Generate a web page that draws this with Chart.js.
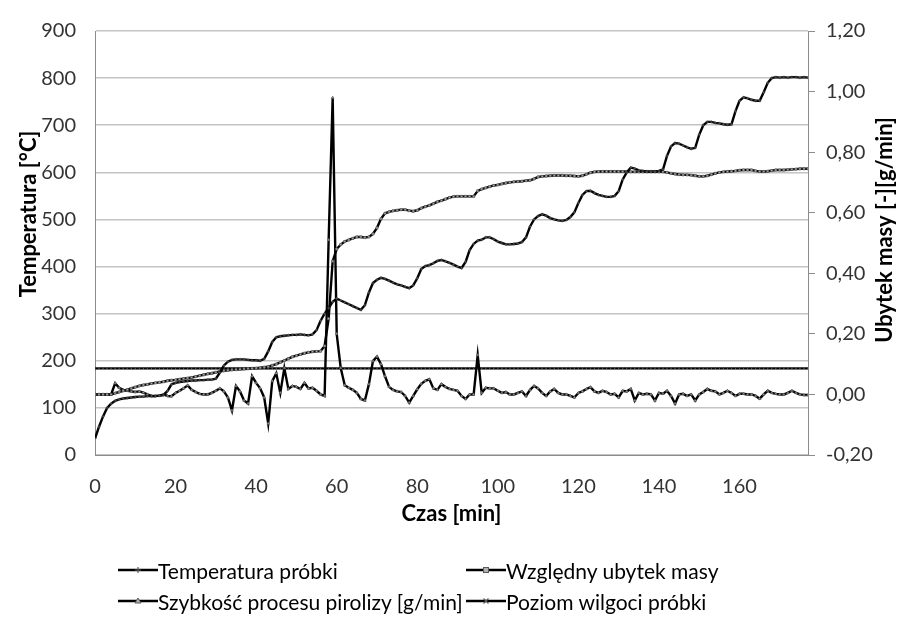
<!DOCTYPE html>
<html>
<head>
<meta charset="utf-8">
<script src="https://cdn.jsdelivr.net/npm/chart.js@4.4.1/dist/chart.umd.min.js"></script>
<style>
  body { margin: 0; background: #fff; }
  #wrap { position: relative; width: 907px; height: 621px; overflow: hidden; }
  #legend { position: absolute; left: 0; top: 0; width: 907px; height: 621px; pointer-events: none;
            font-family: Lato, "Open Sans", sans-serif; font-size: 21px; color: #000; }
  .item { position: absolute; display: flex; align-items: center; height: 24px; white-space: nowrap; }
  .item svg { display: block; }
</style>
</head>
<body>
<div id="wrap">
  <canvas id="wykres" width="907" height="621"></canvas>
  <div id="legend"></div>
</div>
<script>
// czas w minutach (kategorie osi X)
const czas = Array.from({ length: 178 }, (_, i) => i)

// temperatura próbki [°C] - oś lewa
const temperatura = [
  35, 60, 82, 100, 109, 115, 118, 120, 121, 122,
  123, 124, 124, 125, 125, 125, 126, 127, 136, 150,
  153, 155, 156, 157, 158, 158, 159, 159, 160, 160,
  162, 175, 190, 198, 202, 203, 203, 203, 202, 201,
  201, 200, 204, 220, 240, 250, 252, 253, 254, 255,
  255, 256, 255, 254, 256, 265, 285, 300, 312, 325,
  332, 328, 324, 320, 316, 312, 308, 318, 345, 365,
  372, 376, 374, 370, 366, 362, 360, 357, 354, 360,
  375, 395, 401, 403, 407, 412, 414, 411, 408, 404,
  400, 397, 410, 435, 448, 455, 457, 462, 462, 458,
  453, 450, 447, 447, 448, 449, 452, 462, 485, 500,
  507, 511, 508, 503, 500, 498, 497, 499, 505, 515,
  535, 552, 560, 561, 556, 552, 550, 548, 548, 550,
  560, 585, 600, 610, 608, 604, 603, 602, 602, 602,
  603, 606, 635, 655, 662, 661, 657, 653, 650, 652,
  680, 700, 707, 707, 705, 704, 702, 701, 702, 730,
  752, 759, 757, 754, 752, 752, 770, 790, 800, 802,
  801, 802, 801, 802, 802, 801, 802, 801
]

// względny ubytek masy [-] - oś prawa
const ubytekMasy = [
  0, 0, 0, 0, 0, 0.004, 0.008, 0.012, 0.016, 0.02,
  0.024, 0.028, 0.031, 0.033, 0.036, 0.038, 0.04, 0.042, 0.045, 0.047,
  0.048, 0.05, 0.052, 0.054, 0.056, 0.059, 0.062, 0.065, 0.068, 0.07,
  0.073, 0.076, 0.078, 0.08, 0.081, 0.082, 0.083, 0.084, 0.085, 0.086,
  0.087, 0.088, 0.09, 0.092, 0.096, 0.1, 0.106, 0.112, 0.118, 0.124,
  0.128, 0.132, 0.136, 0.139, 0.141, 0.142, 0.143, 0.16, 0.25, 0.44,
  0.48, 0.495, 0.505, 0.51, 0.515, 0.52, 0.52, 0.518, 0.52, 0.53,
  0.55, 0.58, 0.598, 0.603, 0.606, 0.608, 0.61, 0.61, 0.607, 0.605,
  0.608, 0.615, 0.62, 0.624, 0.63, 0.636, 0.64, 0.645, 0.65, 0.653,
  0.654, 0.654, 0.654, 0.654, 0.654, 0.672, 0.678, 0.682, 0.686, 0.69,
  0.692, 0.695, 0.698, 0.7, 0.702, 0.703, 0.704, 0.706, 0.707, 0.712,
  0.718, 0.72, 0.721, 0.722, 0.723, 0.723, 0.723, 0.722, 0.722, 0.721,
  0.72, 0.722, 0.727, 0.732, 0.735, 0.736, 0.736, 0.736, 0.736, 0.736,
  0.736, 0.736, 0.736, 0.735, 0.735, 0.735, 0.735, 0.735, 0.735, 0.735,
  0.735, 0.735, 0.733, 0.73, 0.728, 0.726, 0.725, 0.725, 0.724, 0.722,
  0.72, 0.72, 0.722, 0.726, 0.73, 0.733, 0.735, 0.736, 0.737, 0.738,
  0.74, 0.741, 0.741, 0.741, 0.738, 0.736, 0.736, 0.737, 0.739, 0.741,
  0.741, 0.741, 0.742, 0.743, 0.744, 0.745, 0.745, 0.745
]

// szybkość procesu pirolizy [g/min] - oś prawa
const szybkosc = [
  0, 0, 0, 0, 0, 0.037, 0.022, 0.015, 0.012, 0.01,
  0.008, 0.01, 0.006, 0, -0.005, -0.005, -0.004, 0, -0.005, -0.006,
  0.005, 0.012, 0.02, 0.03, 0.015, 0.008, 0.002, 0, 0, 0.005,
  0.012, 0.02, 0.01, -0.01, -0.053, 0.028, 0.01, -0.02, -0.03, 0.06,
  0.038, 0.02, -0.01, -0.096, 0.044, 0.07, 0.005, 0.087, 0.018, 0.028,
  0.025, 0.018, 0.038, 0.02, 0.022, 0.012, 0, -0.005, 0.51, 0.98,
  0.2, 0.087, 0.03, 0.022, 0.015, 0.005, -0.015, -0.02, 0.034, 0.11,
  0.125, 0.1, 0.06, 0.025, 0.015, 0.01, 0.008, -0.005, -0.027, -0.005,
  0.017, 0.035, 0.045, 0.05, 0.02, 0.015, 0.034, 0.025, 0.018, 0.015,
  0.012, -0.005, -0.015, 0, 0, 0.13, 0.005, 0.022, 0.02, 0.02,
  0.012, 0.005, 0.008, 0, 0, 0.005, 0.01, -0.005, 0.015, 0.028,
  0.02, 0.005, -0.005, 0.01, 0.018, 0.005, 0, 0, -0.005, -0.01,
  0.005, 0.01, 0.018, 0.024, 0.01, 0.005, 0.012, 0.008, 0, 0.002,
  -0.01, 0.012, 0.01, 0.018, -0.02, 0.005, 0, 0.002, 0, -0.02,
  0.005, 0.002, 0.012, -0.005, -0.03, 0, 0.002, -0.005, 0, -0.02,
  0, 0.008, 0.018, 0.012, 0.01, 0, 0.005, 0.012, 0.005, -0.005,
  0.002, 0.002, 0, 0, -0.005, -0.014, 0, 0.012, 0.005, 0.002,
  0, 0, 0.005, 0.012, 0.005, 0, -0.002, -0.002
]

// poziom wilgoci próbki - stała wartość, oś prawa
const poziomWilgoci = 0.086

const xTicks = [0, 20, 40, 60, 80, 100, 120, 140, 160]
const prawaTicks = [-0.2, 0, 0.2, 0.4, 0.6, 0.8, 1.0, 1.2]

const FONT = 'Lato'

function punkty(values) {
  return czas.map((t, i) => ({ x: t, y: values[i] }))
}

const wspolne = {
  borderColor: '#000',
  borderWidth: 2.4,
  pointRadius: 1.5,
  pointBorderWidth: 0.7,
  pointBorderColor: '#5a5a5a',
  pointBackgroundColor: '#b0b0b0',
  tension: 0,
  fill: false
}

const datasets = [
  { ...wspolne, label: 'Temperatura próbki', data: punkty(temperatura), yAxisID: 'y', pointStyle: 'cross', pointRadius: 1.6 },
  { ...wspolne, label: 'Względny ubytek masy', data: punkty(ubytekMasy), yAxisID: 'y1', pointStyle: 'rect' },
  { ...wspolne, label: 'Szybkość procesu pirolizy [g/min]', data: punkty(szybkosc), yAxisID: 'y1', pointStyle: 'triangle' },
  { ...wspolne, label: 'Poziom wilgoci próbki', data: czas.map(t => ({ x: t, y: poziomWilgoci })), yAxisID: 'y1', pointStyle: 'crossRot', pointRadius: 2 }
]

// tytuły osi Y czytane od dołu do góry
function tytulPionowy(ctx, text, x, y) {
  ctx.save()
  ctx.translate(x, y)
  ctx.rotate(-Math.PI / 2)
  ctx.font = 'bold 22px ' + FONT
  ctx.fillStyle = '#000'
  ctx.textAlign = 'center'
  ctx.textBaseline = 'middle'
  ctx.fillText(text, 0, 0)
  ctx.restore()
}

const tytulyOsi = {
  id: 'tytulyOsi',
  afterDraw(chart) {
    tytulPionowy(chart.ctx, 'Temperatura [°C]', 29, 214)
    tytulPionowy(chart.ctx, 'Ubytek masy [-][g/min]', 885, 230)
  }
}

const config = {
  type: 'line',
  data: { datasets: datasets },
  options: {
    responsive: false,
    animation: false,
    devicePixelRatio: 1,
    layout: { padding: { top: 25, bottom: 94, left: 0, right: 0 } },
    plugins: { legend: { display: false }, tooltip: { enabled: false } },
    scales: {
      x: {
        type: 'linear',
        min: 0,
        max: 177,
        afterBuildTicks: s => { s.ticks = xTicks.map(v => ({ value: v })) },
        afterFit: s => { s.height = 72 },
        grid: { display: false },
        border: { display: true, color: '#8c8c8c' },
        ticks: { padding: 12, color: '#333', font: { family: FONT, size: 20 }, maxRotation: 0 },
        title: { display: true, text: 'Czas [min]', color: '#000', padding: { top: 7, bottom: 0 },
                 font: { family: FONT, size: 22, weight: 'bold' } }
      },
      y: {
        position: 'left',
        min: 0,
        max: 900,
        afterFit: s => { s.width = 95 },
        grid: { color: '#c4c4c4', lineWidth: 1.5, drawTicks: false },
        border: { color: '#8c8c8c' },
        ticks: { stepSize: 100, padding: 19, color: '#333', font: { family: FONT, size: 20 } }
      },
      y1: {
        position: 'right',
        min: -0.2,
        max: 1.2,
        afterBuildTicks: s => { s.ticks = prawaTicks.map(v => ({ value: v })) },
        afterFit: s => { s.width = 99 },
        grid: { drawOnChartArea: false, drawTicks: true, tickLength: 7, color: '#8c8c8c' },
        border: { color: '#8c8c8c' },
        ticks: {
          padding: 11, color: '#333', font: { family: FONT, size: 20 },
          callback: v => v.toFixed(2).replace('.', ',')
        }
      }
    }
  },
  plugins: [tytulyOsi]
}

const myChart = new Chart(document.getElementById('wykres'), config)

// legenda HTML w dwóch kolumnach
function znacznik(styl) {
  const g = '#5a5a5a'
  let m = ''
  if (styl === 'cross') m = `<path d="M20 3v6M17 6h6" stroke="${g}" stroke-width="1.2"/>`
  if (styl === 'rect') m = `<rect x="17.5" y="3.5" width="5" height="5" fill="#b0b0b0" stroke="${g}"/>`
  if (styl === 'triangle') m = `<path d="M20 3l3 5h-6z" fill="#b0b0b0" stroke="${g}"/>`
  if (styl === 'crossRot') m = `<path d="M17.5 3.5l5 5M22.5 3.5l-5 5" stroke="${g}" stroke-width="1.2"/>`
  return `<svg width="40" height="12"><line x1="0" y1="6" x2="40" y2="6" stroke="#000" stroke-width="2.5"/>${m}</svg>`
}

const legendPos = [[118, 558], [466, 558], [118, 589], [466, 589]]
const legend = document.getElementById('legend')
datasets.forEach((ds, i) => {
  const el = document.createElement('div')
  el.className = 'item'
  el.style.left = legendPos[i][0] + 'px'
  el.style.top = legendPos[i][1] + 'px'
  el.innerHTML = znacznik(ds.pointStyle) + '<span>' + ds.label + '</span>'
  legend.appendChild(el)
})
</script>
</body>
</html>
